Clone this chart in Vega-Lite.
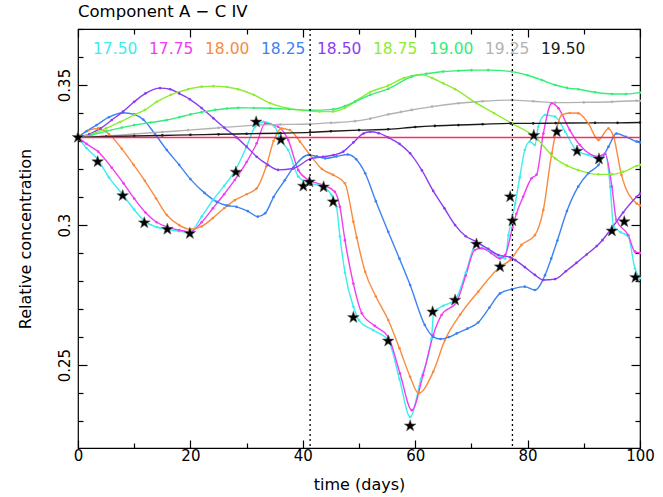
{
  "$schema": "https://vega.github.io/schema/vega-lite/v6.json",
  "width": 562,
  "height": 419,
  "autosize": {"type": "none"},
  "padding": {"left": 78, "top": 29, "right": 23, "bottom": 49},
  "background": "white",
  "config": {
    "view": {"stroke": "black", "strokeWidth": 1.2},
    "font": "DejaVu Sans",
    "axis": {"grid": false, "domain": false, "ticks": true, "zindex": 1, "tickColor": "black", "tickWidth": 1.2, "tickOpacity": 1, "labelColor": "black", "titleColor": "black", "titleFontWeight": "normal", "labelFont": "DejaVu Sans", "titleFont": "DejaVu Sans"}
  },
  "title": {"text": "Component A − C IV", "anchor": "start", "frame": "group", "fontSize": 16.5, "font": "DejaVu Sans", "fontWeight": "normal", "color": "black", "offset": 8},
  "datasets": {
    "lines": [
      {"s":"17.50","d":0,"v":0.3313},{"s":"17.50","d":1.5,"v":0.3275},{"s":"17.50","d":3.5,"v":0.3235},{"s":"17.50","d":5.5,"v":0.317},{"s":"17.50","d":7.9,"v":0.311},{"s":"17.50","d":10,"v":0.3055},{"s":"17.50","d":11.8,"v":0.3015},{"s":"17.50","d":14,"v":0.2993},{"s":"17.50","d":15.9,"v":0.2985},{"s":"17.50","d":18,"v":0.2978},{"s":"17.50","d":19.9,"v":0.2975},{"s":"17.50","d":22,"v":0.303},{"s":"17.50","d":24,"v":0.3089},{"s":"17.50","d":26,"v":0.314},{"s":"17.50","d":28,"v":0.3196},{"s":"17.50","d":30,"v":0.328},{"s":"17.50","d":31.5,"v":0.3351},{"s":"17.50","d":33,"v":0.3369},{"s":"17.50","d":35,"v":0.3351},{"s":"17.50","d":36,"v":0.3304},{"s":"17.50","d":37.4,"v":0.3268},{"s":"17.50","d":39.2,"v":0.3173},{"s":"17.50","d":41,"v":0.3151},{"s":"17.50","d":43.6,"v":0.3137},{"s":"17.50","d":45.1,"v":0.3107},{"s":"17.50","d":46,"v":0.3065},{"s":"17.50","d":46.6,"v":0.296},{"s":"17.50","d":47.5,"v":0.283},{"s":"17.50","d":49,"v":0.2708},{"s":"17.50","d":50,"v":0.266},{"s":"17.50","d":52.5,"v":0.2625},{"s":"17.50","d":55.2,"v":0.2589},{"s":"17.50","d":57.2,"v":0.245},{"s":"17.50","d":59.1,"v":0.2315},{"s":"17.50","d":61,"v":0.245},{"s":"17.50","d":62.9,"v":0.2595},{"s":"17.50","d":63.3,"v":0.269},{"s":"17.50","d":65,"v":0.2712},{"s":"17.50","d":67.1,"v":0.2732},{"s":"17.50","d":69,"v":0.283},{"s":"17.50","d":70.9,"v":0.2935},{"s":"17.50","d":73,"v":0.2911},{"s":"17.50","d":75.1,"v":0.2887},{"s":"17.50","d":76,"v":0.2881},{"s":"17.50","d":76.6,"v":0.2964},{"s":"17.50","d":77.8,"v":0.3077},{"s":"17.50","d":78.6,"v":0.317},{"s":"17.50","d":79.5,"v":0.3268},{"s":"17.50","d":80.4,"v":0.3298},{"s":"17.50","d":81.3,"v":0.3286},{"s":"17.50","d":81.9,"v":0.3351},{"s":"17.50","d":83.1,"v":0.3393},{"s":"17.50","d":84.9,"v":0.3387},{"s":"17.50","d":86.7,"v":0.3333},{"s":"17.50","d":88.8,"v":0.3264},{"s":"17.50","d":90.8,"v":0.325},{"s":"17.50","d":92.7,"v":0.3236},{"s":"17.50","d":93.8,"v":0.3256},{"s":"17.50","d":94.7,"v":0.3137},{"s":"17.50","d":95.3,"v":0.2994},{"s":"17.50","d":96.5,"v":0.2975},{"s":"17.50","d":97.9,"v":0.296},{"s":"17.50","d":99.1,"v":0.2845},{"s":"17.50","d":100,"v":0.281},
      {"s":"17.75","d":0,"v":0.3313},{"s":"17.75","d":1.5,"v":0.329},{"s":"17.75","d":3.6,"v":0.3262},{"s":"17.75","d":6,"v":0.3205},{"s":"17.75","d":8.1,"v":0.3149},{"s":"17.75","d":10,"v":0.3095},{"s":"17.75","d":12,"v":0.3045},{"s":"17.75","d":14,"v":0.301},{"s":"17.75","d":16,"v":0.2992},{"s":"17.75","d":18,"v":0.2982},{"s":"17.75","d":20,"v":0.2976},{"s":"17.75","d":22,"v":0.301},{"s":"17.75","d":24,"v":0.306},{"s":"17.75","d":26,"v":0.311},{"s":"17.75","d":27.9,"v":0.3161},{"s":"17.75","d":30,"v":0.3225},{"s":"17.75","d":31.8,"v":0.3292},{"s":"17.75","d":33.3,"v":0.3363},{"s":"17.75","d":35.6,"v":0.3351},{"s":"17.75","d":37.4,"v":0.3304},{"s":"17.75","d":39.2,"v":0.3196},{"s":"17.75","d":41,"v":0.3161},{"s":"17.75","d":43.6,"v":0.3143},{"s":"17.75","d":45.7,"v":0.3119},{"s":"17.75","d":46.6,"v":0.3065},{"s":"17.75","d":47.5,"v":0.2946},{"s":"17.75","d":49,"v":0.2791},{"s":"17.75","d":50.5,"v":0.2685},{"s":"17.75","d":52.8,"v":0.264},{"s":"17.75","d":55.2,"v":0.2601},{"s":"17.75","d":57.3,"v":0.247},{"s":"17.75","d":59.4,"v":0.2339},{"s":"17.75","d":61.4,"v":0.2464},{"s":"17.75","d":63.2,"v":0.2607},{"s":"17.75","d":64.7,"v":0.2679},{"s":"17.75","d":67.4,"v":0.2726},{"s":"17.75","d":69,"v":0.282},{"s":"17.75","d":70.6,"v":0.2911},{"s":"17.75","d":71.8,"v":0.2917},{"s":"17.75","d":73.5,"v":0.29},{"s":"17.75","d":75.1,"v":0.2881},{"s":"17.75","d":76,"v":0.2893},{"s":"17.75","d":77.3,"v":0.299},{"s":"17.75","d":78,"v":0.304},{"s":"17.75","d":79.2,"v":0.3101},{"s":"17.75","d":80.7,"v":0.3167},{"s":"17.75","d":81.6,"v":0.318},{"s":"17.75","d":82.8,"v":0.3327},{"s":"17.75","d":84.3,"v":0.3435},{"s":"17.75","d":85.5,"v":0.3417},{"s":"17.75","d":87.5,"v":0.3339},{"s":"17.75","d":89.3,"v":0.3286},{"s":"17.75","d":92.6,"v":0.3244},{"s":"17.75","d":93.8,"v":0.3255},{"s":"17.75","d":95,"v":0.3137},{"s":"17.75","d":95.8,"v":0.3018},{"s":"17.75","d":97.9,"v":0.2964},{"s":"17.75","d":99.1,"v":0.2905},{"s":"17.75","d":100,"v":0.29},
      {"s":"18.00","d":0,"v":0.3313},{"s":"18.00","d":1.8,"v":0.3338},{"s":"18.00","d":3.6,"v":0.3345},{"s":"18.00","d":5.5,"v":0.3325},{"s":"18.00","d":7.8,"v":0.3272},{"s":"18.00","d":9.9,"v":0.3215},{"s":"18.00","d":11.9,"v":0.3158},{"s":"18.00","d":13.9,"v":0.3095},{"s":"18.00","d":15.8,"v":0.3036},{"s":"18.00","d":18,"v":0.3},{"s":"18.00","d":20,"v":0.2985},{"s":"18.00","d":22,"v":0.2995},{"s":"18.00","d":24,"v":0.3025},{"s":"18.00","d":26,"v":0.306},{"s":"18.00","d":27.9,"v":0.3089},{"s":"18.00","d":30,"v":0.311},{"s":"18.00","d":31.8,"v":0.3131},{"s":"18.00","d":33.5,"v":0.321},{"s":"18.00","d":34.8,"v":0.33},{"s":"18.00","d":36.2,"v":0.3345},{"s":"18.00","d":37.7,"v":0.3339},{"s":"18.00","d":39.5,"v":0.3298},{"s":"18.00","d":41.3,"v":0.325},{"s":"18.00","d":43.4,"v":0.32},{"s":"18.00","d":45.4,"v":0.3179},{"s":"18.00","d":47.5,"v":0.3149},{"s":"18.00","d":49,"v":0.3012},{"s":"18.00","d":49.6,"v":0.2955},{"s":"18.00","d":51.1,"v":0.2833},{"s":"18.00","d":53,"v":0.2745},{"s":"18.00","d":55.2,"v":0.2661},{"s":"18.00","d":57.2,"v":0.256},{"s":"18.00","d":59.1,"v":0.2458},{"s":"18.00","d":60.6,"v":0.2399},{"s":"18.00","d":63.2,"v":0.2476},{"s":"18.00","d":65.3,"v":0.259},{"s":"18.00","d":68,"v":0.268},{"s":"18.00","d":71.2,"v":0.2762},{"s":"18.00","d":75.1,"v":0.2851},{"s":"18.00","d":76.9,"v":0.2875},{"s":"18.00","d":78.9,"v":0.2929},{"s":"18.00","d":81.3,"v":0.2964},{"s":"18.00","d":82.8,"v":0.3054},{"s":"18.00","d":84.3,"v":0.3256},{"s":"18.00","d":86.1,"v":0.3393},{"s":"18.00","d":87.5,"v":0.34},{"s":"18.00","d":89,"v":0.3399},{"s":"18.00","d":90.8,"v":0.3363},{"s":"18.00","d":92.6,"v":0.3304},{"s":"18.00","d":94.4,"v":0.3345},{"s":"18.00","d":95.3,"v":0.3315},{"s":"18.00","d":96.7,"v":0.3179},{"s":"18.00","d":99.4,"v":0.3077},{"s":"18.00","d":100,"v":0.307},
      {"s":"18.25","d":0,"v":0.3313},{"s":"18.25","d":1.5,"v":0.3335},{"s":"18.25","d":3.3,"v":0.3357},{"s":"18.25","d":5.5,"v":0.3385},{"s":"18.25","d":8,"v":0.3401},{"s":"18.25","d":10,"v":0.3395},{"s":"18.25","d":11.6,"v":0.3377},{"s":"18.25","d":13.7,"v":0.3325},{"s":"18.25","d":15.8,"v":0.3268},{"s":"18.25","d":18,"v":0.3215},{"s":"18.25","d":20,"v":0.3164},{"s":"18.25","d":22.5,"v":0.3115},{"s":"18.25","d":24.7,"v":0.3083},{"s":"18.25","d":26.5,"v":0.307},{"s":"18.25","d":28.2,"v":0.3065},{"s":"18.25","d":30.2,"v":0.305},{"s":"18.25","d":32,"v":0.303},{"s":"18.25","d":33.3,"v":0.3042},{"s":"18.25","d":34.8,"v":0.31},{"s":"18.25","d":36.8,"v":0.316},{"s":"18.25","d":38.3,"v":0.3205},{"s":"18.25","d":41,"v":0.325},{"s":"18.25","d":42.5,"v":0.3245},{"s":"18.25","d":44,"v":0.3238},{"s":"18.25","d":46,"v":0.3245},{"s":"18.25","d":48,"v":0.3252},{"s":"18.25","d":49.5,"v":0.3235},{"s":"18.25","d":51.1,"v":0.3185},{"s":"18.25","d":53,"v":0.3085},{"s":"18.25","d":55.2,"v":0.2976},{"s":"18.25","d":57.2,"v":0.288},{"s":"18.25","d":59.1,"v":0.2786},{"s":"18.25","d":61.7,"v":0.2643},{"s":"18.25","d":63.2,"v":0.2601},{"s":"18.25","d":64.5,"v":0.2593},{"s":"18.25","d":66,"v":0.26},{"s":"18.25","d":67.4,"v":0.2613},{"s":"18.25","d":69.3,"v":0.263},{"s":"18.25","d":71.2,"v":0.2652},{"s":"18.25","d":73.2,"v":0.2705},{"s":"18.25","d":75.1,"v":0.2756},{"s":"18.25","d":77.2,"v":0.2771},{"s":"18.25","d":79.5,"v":0.278},{"s":"18.25","d":81.3,"v":0.2768},{"s":"18.25","d":83.1,"v":0.2821},{"s":"18.25","d":84.2,"v":0.288},{"s":"18.25","d":85.3,"v":0.2945},{"s":"18.25","d":87,"v":0.305},{"s":"18.25","d":89,"v":0.3137},{"s":"18.25","d":90.8,"v":0.3185},{"s":"18.25","d":92.6,"v":0.3214},{"s":"18.25","d":94.4,"v":0.328},{"s":"18.25","d":95.8,"v":0.3327},{"s":"18.25","d":97.5,"v":0.3315},{"s":"18.25","d":99.4,"v":0.3298},{"s":"18.25","d":100,"v":0.3295},
      {"s":"18.50","d":0,"v":0.3313},{"s":"18.50","d":2,"v":0.3325},{"s":"18.50","d":4,"v":0.3345},{"s":"18.50","d":6,"v":0.3375},{"s":"18.50","d":8,"v":0.3405},{"s":"18.50","d":10,"v":0.344},{"s":"18.50","d":12,"v":0.347},{"s":"18.50","d":14.6,"v":0.3489},{"s":"18.50","d":16.4,"v":0.3485},{"s":"18.50","d":18,"v":0.347},{"s":"18.50","d":19.9,"v":0.3449},{"s":"18.50","d":22,"v":0.3418},{"s":"18.50","d":24.1,"v":0.3381},{"s":"18.50","d":26,"v":0.3348},{"s":"18.50","d":28.2,"v":0.3313},{"s":"18.50","d":30,"v":0.328},{"s":"18.50","d":31.8,"v":0.3244},{"s":"18.50","d":33.8,"v":0.3215},{"s":"18.50","d":35.6,"v":0.3197},{"s":"18.50","d":38.3,"v":0.3202},{"s":"18.50","d":41.3,"v":0.3236},{"s":"18.50","d":43.6,"v":0.3244},{"s":"18.50","d":45.5,"v":0.325},{"s":"18.50","d":47.2,"v":0.3262},{"s":"18.50","d":49,"v":0.3295},{"s":"18.50","d":50.8,"v":0.3327},{"s":"18.50","d":52,"v":0.3333},{"s":"18.50","d":53.5,"v":0.3328},{"s":"18.50","d":55.2,"v":0.3313},{"s":"18.50","d":57.2,"v":0.329},{"s":"18.50","d":59.1,"v":0.3256},{"s":"18.50","d":61.2,"v":0.3195},{"s":"18.50","d":63.2,"v":0.3122},{"s":"18.50","d":65.2,"v":0.306},{"s":"18.50","d":67.1,"v":0.3},{"s":"18.50","d":69,"v":0.296},{"s":"18.50","d":70.9,"v":0.294},{"s":"18.50","d":73,"v":0.2915},{"s":"18.50","d":74.8,"v":0.2893},{"s":"18.50","d":76.9,"v":0.2885},{"s":"18.50","d":77.8,"v":0.2875},{"s":"18.50","d":79.5,"v":0.285},{"s":"18.50","d":81.3,"v":0.2822},{"s":"18.50","d":82.8,"v":0.2804},{"s":"18.50","d":84.9,"v":0.2807},{"s":"18.50","d":86.8,"v":0.2835},{"s":"18.50","d":88.7,"v":0.2865},{"s":"18.50","d":90.5,"v":0.2895},{"s":"18.50","d":92.3,"v":0.2925},{"s":"18.50","d":93.3,"v":0.2946},{"s":"18.50","d":95,"v":0.299},{"s":"18.50","d":97,"v":0.3045},{"s":"18.50","d":99.4,"v":0.3101},{"s":"18.50","d":100,"v":0.3112},
      {"s":"18.75","d":0,"v":0.3313},{"s":"18.75","d":2.5,"v":0.3325},{"s":"18.75","d":5,"v":0.3345},{"s":"18.75","d":7.5,"v":0.3368},{"s":"18.75","d":10,"v":0.3393},{"s":"18.75","d":11.9,"v":0.3411},{"s":"18.75","d":14,"v":0.344},{"s":"18.75","d":16.5,"v":0.3465},{"s":"18.75","d":19.6,"v":0.3485},{"s":"18.75","d":22,"v":0.3494},{"s":"18.75","d":24.1,"v":0.3496},{"s":"18.75","d":26.5,"v":0.3493},{"s":"18.75","d":28.5,"v":0.3485},{"s":"18.75","d":31.3,"v":0.3465},{"s":"18.75","d":34.2,"v":0.3435},{"s":"18.75","d":37,"v":0.3418},{"s":"18.75","d":40,"v":0.341},{"s":"18.75","d":43,"v":0.3405},{"s":"18.75","d":45.4,"v":0.3405},{"s":"18.75","d":47.5,"v":0.3418},{"s":"18.75","d":49.3,"v":0.3441},{"s":"18.75","d":52,"v":0.3475},{"s":"18.75","d":55.2,"v":0.3498},{"s":"18.75","d":58,"v":0.3525},{"s":"18.75","d":61,"v":0.3537},{"s":"18.75","d":63,"v":0.3525},{"s":"18.75","d":65,"v":0.3506},{"s":"18.75","d":67.1,"v":0.3485},{"s":"18.75","d":70.9,"v":0.3435},{"s":"18.75","d":74,"v":0.34},{"s":"18.75","d":77.2,"v":0.3363},{"s":"18.75","d":81.3,"v":0.3315},{"s":"18.75","d":84.9,"v":0.3238},{"s":"18.75","d":87,"v":0.3212},{"s":"18.75","d":89,"v":0.3196},{"s":"18.75","d":92.6,"v":0.3181},{"s":"18.75","d":95,"v":0.3181},{"s":"18.75","d":97,"v":0.319},{"s":"18.75","d":99.4,"v":0.3211},{"s":"18.75","d":100,"v":0.3215},
      {"s":"19.00","d":0,"v":0.3313},{"s":"19.00","d":2.5,"v":0.3322},{"s":"19.00","d":5,"v":0.3335},{"s":"19.00","d":7.8,"v":0.3348},{"s":"19.00","d":10,"v":0.3357},{"s":"19.00","d":12.9,"v":0.3366},{"s":"19.00","d":15.8,"v":0.3375},{"s":"19.00","d":18,"v":0.3385},{"s":"19.00","d":20,"v":0.3395},{"s":"19.00","d":22,"v":0.3403},{"s":"19.00","d":24.4,"v":0.3411},{"s":"19.00","d":26.5,"v":0.3416},{"s":"19.00","d":28.5,"v":0.3419},{"s":"19.00","d":31.3,"v":0.3418},{"s":"19.00","d":34.2,"v":0.3417},{"s":"19.00","d":37.5,"v":0.3414},{"s":"19.00","d":41.3,"v":0.341},{"s":"19.00","d":45.4,"v":0.3413},{"s":"19.00","d":47.5,"v":0.3425},{"s":"19.00","d":49.3,"v":0.3441},{"s":"19.00","d":52,"v":0.3465},{"s":"19.00","d":55.2,"v":0.3486},{"s":"19.00","d":59.4,"v":0.353},{"s":"19.00","d":62,"v":0.354},{"s":"19.00","d":65,"v":0.3548},{"s":"19.00","d":67.7,"v":0.3551},{"s":"19.00","d":70,"v":0.3553},{"s":"19.00","d":73,"v":0.3553},{"s":"19.00","d":77.2,"v":0.3548},{"s":"19.00","d":80,"v":0.3535},{"s":"19.00","d":82.5,"v":0.3518},{"s":"19.00","d":84.9,"v":0.35},{"s":"19.00","d":87,"v":0.349},{"s":"19.00","d":89,"v":0.3485},{"s":"19.00","d":92,"v":0.3474},{"s":"19.00","d":95,"v":0.3468},{"s":"19.00","d":97.5,"v":0.3468},{"s":"19.00","d":100,"v":0.3473},
      {"s":"19.25","d":0,"v":0.3313},{"s":"19.25","d":5,"v":0.3318},{"s":"19.25","d":10,"v":0.3325},{"s":"19.25","d":15,"v":0.3332},{"s":"19.25","d":19.6,"v":0.3339},{"s":"19.25","d":25,"v":0.3347},{"s":"19.25","d":31.8,"v":0.3357},{"s":"19.25","d":36,"v":0.3359},{"s":"19.25","d":41.3,"v":0.3361},{"s":"19.25","d":45,"v":0.3365},{"s":"19.25","d":49.3,"v":0.3371},{"s":"19.25","d":52,"v":0.338},{"s":"19.25","d":55.2,"v":0.3395},{"s":"19.25","d":57.5,"v":0.3404},{"s":"19.25","d":59.4,"v":0.3411},{"s":"19.25","d":63,"v":0.3423},{"s":"19.25","d":67.7,"v":0.3435},{"s":"19.25","d":72,"v":0.3442},{"s":"19.25","d":77.2,"v":0.3446},{"s":"19.25","d":81,"v":0.3442},{"s":"19.25","d":84.9,"v":0.3437},{"s":"19.25","d":90,"v":0.3438},{"s":"19.25","d":95,"v":0.344},{"s":"19.25","d":99.4,"v":0.3444},{"s":"19.25","d":100,"v":0.3444},
      {"s":"19.50","d":0,"v":0.3313},{"s":"19.50","d":5,"v":0.3316},{"s":"19.50","d":10,"v":0.3318},{"s":"19.50","d":15,"v":0.332},{"s":"19.50","d":20,"v":0.3322},{"s":"19.50","d":25,"v":0.3324},{"s":"19.50","d":30,"v":0.3326},{"s":"19.50","d":36,"v":0.3328},{"s":"19.50","d":41.3,"v":0.3331},{"s":"19.50","d":45,"v":0.3335},{"s":"19.50","d":50,"v":0.3339},{"s":"19.50","d":55.2,"v":0.3342},{"s":"19.50","d":60,"v":0.335},{"s":"19.50","d":63.5,"v":0.3354},{"s":"19.50","d":67.7,"v":0.3357},{"s":"19.50","d":72,"v":0.336},{"s":"19.50","d":77,"v":0.3363},{"s":"19.50","d":81,"v":0.3363},{"s":"19.50","d":85,"v":0.3364},{"s":"19.50","d":92,"v":0.3365},{"s":"19.50","d":96,"v":0.3365},{"s":"19.50","d":100,"v":0.3366}
    ],
    "reference": [{"d":0,"v":0.3313},{"d":100,"v":0.3313}],
    "stars": [
      {"d":0,"v":0.3313},{"d":3.5,"v":0.3226},{"d":7.95,"v":0.3105},{"d":11.8,"v":0.3008},{"d":15.9,"v":0.2985},{"d":19.9,"v":0.297},{"d":28.1,"v":0.3189},{"d":31.7,"v":0.3368},{"d":36.1,"v":0.3304},{"d":40.1,"v":0.3139},{"d":41.2,"v":0.3154},{"d":43.7,"v":0.3136},{"d":45.4,"v":0.3083},{"d":49.0,"v":0.267},{"d":55.2,"v":0.2586},{"d":59.1,"v":0.2283},{"d":63.1,"v":0.269},{"d":67.1,"v":0.2732},{"d":70.9,"v":0.2932},{"d":75.1,"v":0.2851},{"d":76.9,"v":0.3101},{"d":77.3,"v":0.3015},{"d":81.1,"v":0.332},{"d":85.2,"v":0.3333},{"d":88.8,"v":0.3264},{"d":92.7,"v":0.3236},{"d":95.0,"v":0.2979},{"d":97.2,"v":0.3012},{"d":99.2,"v":0.2813}
    ],
    "events": [{"d":41.3},{"d":77.3}]
  },
  "layer": [
    {
      "data": {"name": "lines"},
      "mark": {"type": "line", "interpolate": "monotone", "strokeWidth": 1.4},
      "encoding": {
        "x": {"field": "d", "type": "quantitative", "scale": {"domain": [0, 100], "nice": false},
          "axis": {"orient": "bottom", "offset": -8, "values": [0,20,40,60,80,100], "tickSize": 8, "labelPadding": 0, "labelFlush": false, "labelOverlap": false, "labelFontSize": 15, "title": "time (days)", "titleFontSize": 16, "titlePadding": 13}},
        "y": {"field": "v", "type": "quantitative", "scale": {"domain": [0.2204, 0.37], "nice": false, "zero": false},
          "axis": {"orient": "left", "offset": -9, "values": [0.25,0.3,0.35], "format": ".2~f", "tickSize": 9, "labelAngle": -90, "labelAlign": "center", "labelBaseline": "bottom", "labelPadding": 6, "labelFlush": false, "labelOverlap": false, "labelFontSize": 15, "title": "Relative concentration", "titleFontSize": 16, "titlePadding": 24}},
        "color": {"field": "s", "type": "nominal",
          "scale": {"domain": ["17.50","17.75","18.00","18.25","18.50","18.75","19.00","19.25","19.50"], "range": ["#3ceeee","#f23cf2","#f98b3e","#3d82f2","#8c3cf0","#8eec32","#33ee77","#b2b2b2","#1a1a1a"]},
          "legend": {"orient": "none", "legendX": 15, "legendY": 12, "direction": "horizontal", "title": null, "symbolSize": 0, "symbolStrokeWidth": 0, "symbolOpacity": 0, "labelOffset": -15.5, "columnPadding": 11, "padding": 0, "labelFont": "DejaVu Sans", "labelFontSize": 15.5,
            "labelColor": {"expr": "scale('color', datum.value)"}}}
      }
    },
    {
      "data": {"name": "lines"},
      "mark": {"type": "point", "filled": true, "size": 7, "opacity": 1},
      "encoding": {
        "x": {"field": "d", "type": "quantitative",
          "axis": {"orient": "bottom", "offset": -5, "values": [10,30,50,70,90], "tickSize": 5, "labels": false, "title": null}},
        "y": {"field": "v", "type": "quantitative",
          "axis": {"orient": "left", "offset": -5, "values": [0.23,0.24,0.26,0.27,0.28,0.29,0.31,0.32,0.33,0.34,0.36,0.37], "tickSize": 5, "labels": false, "title": null}},
        "color": {"field": "s", "type": "nominal", "legend": null}
      }
    },
    {
      "data": {"name": "reference"},
      "mark": {"type": "line", "color": "#ff2a62", "strokeWidth": 1.5},
      "encoding": {
        "x": {"field": "d", "type": "quantitative",
          "axis": {"orient": "top", "offset": -8, "values": [0,20,40,60,80,100], "labels": false, "tickSize": 8, "title": null}},
        "y": {"field": "v", "type": "quantitative",
          "axis": {"orient": "right", "offset": -9, "values": [0.25,0.3,0.35], "labels": false, "tickSize": 9, "title": null}}
      }
    },
    {
      "data": {"name": "events"},
      "mark": {"type": "rule", "color": "black", "strokeWidth": 1.3, "strokeDash": [2, 3]},
      "encoding": {
        "x": {"field": "d", "type": "quantitative", "axis": null}
      }
    },
    {
      "data": {"name": "stars"},
      "mark": {"type": "point", "shape": "M0,-1L0.235,-0.324L0.951,-0.309L0.38,0.124L0.588,0.809L0,0.4L-0.588,0.809L-0.38,0.124L-0.951,-0.309L-0.235,-0.324Z", "filled": true, "color": "black", "size": 150, "opacity": 1, "stroke": "#666666", "strokeWidth": 0.6},
      "encoding": {
        "x": {"field": "d", "type": "quantitative",
          "axis": {"orient": "top", "offset": -5, "values": [10,30,50,70,90], "tickSize": 5, "labels": false, "title": null}},
        "y": {"field": "v", "type": "quantitative",
          "axis": {"orient": "right", "offset": -5, "values": [0.23,0.24,0.26,0.27,0.28,0.29,0.31,0.32,0.33,0.34,0.36,0.37], "tickSize": 5, "labels": false, "title": null}}
      }
    }
  ],
  "resolve": {"axis": {"x": "independent", "y": "independent"}}
}
